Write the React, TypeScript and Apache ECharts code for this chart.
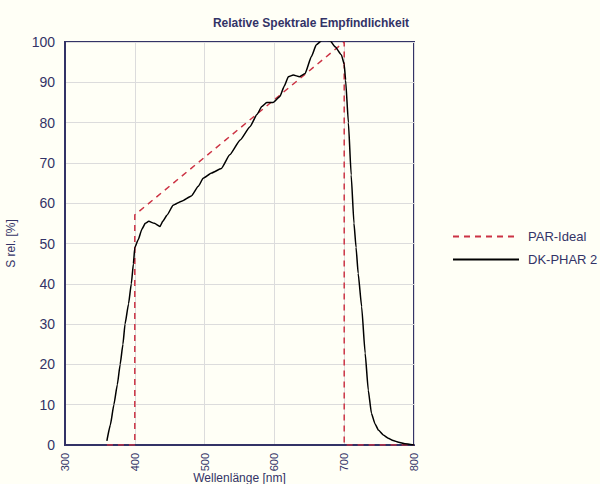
import React, { useEffect, useRef } from "react";
import * as echarts from "echarts";

const titleText = "Relative Spektrale Empfindlichkeit";
const xName = "Wellenlänge [nm]";
const yName = "S rel. [%]";
const seriesNames = ["PAR-Ideal", "DK-PHAR 2"];

const parIdeal: [number, number][] = [
  [360, 0], [400, 0], [400, 57.1], [700, 100], [700, 0], [800, 0],
];

const dkPhar2: [number, number][] = [
  [360, 1], [365, 5], [370, 10], [375, 15], [379, 20], [383, 25], [386, 30],
  [391, 35], [395, 40], [398, 45], [400, 49], [405, 51], [410, 53.5], [415, 55],
  [420, 55.5], [428, 55], [436, 54.2], [440, 55.5], [446, 57], [455, 59.5],
  [467, 60.5], [481, 61.8], [491, 64.2], [498, 66.2], [510, 67.5], [524, 68.6],
  [536, 72], [551, 75.7], [565, 79], [575, 82], [582, 84], [589, 85], [598, 85],
  [608, 86.5], [614, 89], [620, 91.4], [627, 91.8], [636, 91.4], [644, 92.2],
  [653, 96.4], [660, 99.3], [668, 100.4], [680, 100.3], [687, 98.8], [696, 96.8],
  [700, 94.5], [702, 90.6], [706, 80], [710, 67], [714, 55], [717, 49],
  [720, 42.6], [725, 34.3], [730, 22.8], [734.5, 13.6], [739, 7.9], [744, 5.3],
  [749, 3.7], [756, 2.5], [763, 1.7], [770, 1.1], [778, 0.7], [787, 0.3], [800, 0],
];

const navy = "#333366";

export default function App() {
  const ref = useRef<HTMLDivElement>(null);
  useEffect(() => {
    if (!ref.current) return;
    const chart = echarts.init(ref.current, undefined, { renderer: "svg" });
    chart.setOption({
      animation: false,
      backgroundColor: "#fffff6",
      textStyle: { fontFamily: "Liberation Sans, Arial, sans-serif" },
      title: {
        text: titleText,
        right: 186,
        top: 12,
        textStyle: { fontSize: 12, fontWeight: "bold", color: navy },
      },
      legend: {
        orient: "vertical",
        left: 447,
        top: 225,
        itemWidth: 66,
        itemHeight: 14,
        itemGap: 10,
        data: seriesNames,
        itemStyle: { opacity: 0 },
        textStyle: { fontSize: 13, color: navy, padding: [0, 0, 0, 4] },
      },
      grid: {
        left: 65,
        right: 186,
        top: 42,
        bottom: 39,
        outerBoundsMode: "none",
        containLabel: false,
        show: true,
        borderColor: navy,
        borderWidth: 2,
        backgroundColor: "transparent",
      },
      xAxis: {
        type: "value",
        min: 300,
        max: 800,
        interval: 100,
        name: xName,
        nameLocation: "middle",
        nameGap: 27,
        nameMoveOverlap: false,
        nameTextStyle: { fontSize: 12, color: navy },
        axisLine: { show: true, lineStyle: { color: navy, width: 2 } },
        axisTick: { show: false },
        axisLabel: { rotate: 90, fontSize: 11, color: navy, margin: 8 },
        splitLine: { show: true, lineStyle: { color: "#dcdcdc", width: 1 } },
      },
      yAxis: {
        type: "value",
        min: 0,
        max: 100,
        interval: 10,
        name: yName,
        nameLocation: "middle",
        nameGap: 48,
        nameMoveOverlap: false,
        nameTextStyle: { fontSize: 12, color: navy },
        axisLine: { show: true, lineStyle: { color: navy, width: 2 } },
        axisTick: { show: false },
        axisLabel: { fontSize: 14, color: navy, margin: 10 },
        splitLine: { show: true, lineStyle: { color: "#dcdcdc", width: 1 } },
      },
      series: [
        {
          name: seriesNames[0],
          type: "line",
          data: parIdeal,
          symbol: "none",
          lineStyle: { color: "#cc3344", width: 1.5, type: [6, 5] },
          itemStyle: { color: "#cc3344" },
          z: 2,
        },
        {
          name: seriesNames[1],
          type: "line",
          data: dkPhar2,
          symbol: "none",
          smooth: 0.15,
          smoothMonotone: "x",
          lineStyle: { color: "#000000", width: 1.5 },
          itemStyle: { color: "#000000" },
          z: 3,
        },
      ],
    });
    return () => chart.dispose();
  }, []);
  return (
    <div
      ref={ref}
      style={{ position: "fixed", left: 0, top: 0, width: 600, height: 484 }}
    />
  );
}
